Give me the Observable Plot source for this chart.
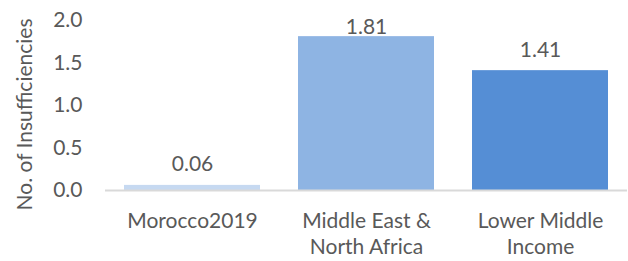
<!DOCTYPE html>
<html>
<head>
<meta charset="utf-8">
<script src="https://cdn.jsdelivr.net/npm/d3@7"></script>
<script src="https://cdn.jsdelivr.net/npm/@observablehq/plot@0.6"></script>
<style>
  html, body { margin: 0; padding: 0; background: #fff; }
  svg { display: block; }
</style>
</head>
<body>
<div id="chart"></div>
<script>
const categories = ["Morocco2019", "Middle East & North Africa", "Lower Middle Income"];
const tickLabels = ["Morocco2019", "Middle East &\nNorth Africa", "Lower Middle\nIncome"];
const values = [0.06, 1.81, 1.41];
const valueLabels = ["0.06", "1.81", "1.41"];
const colors = ["#C6D9F1", "#8EB4E3", "#558ED5"];
const yTicks = [0, 0.5, 1.0, 1.5, 2.0];
const yTitle = "No. of Insufficiencies";

const data = categories.map((c, i) => ({cat: c, value: values[i], label: valueLabels[i], color: colors[i]}));

const FS = 21;
const chart = Plot.plot({
  width: 628,
  height: 261,
  marginLeft: 105,
  marginRight: 1,
  marginTop: 20,
  marginBottom: 71,
  style: {fontFamily: "Lato, sans-serif", fontSize: FS + "px", color: "#595959", background: "#fff"},
  x: {domain: categories, paddingInner: 0.22, paddingOuter: 0.11, label: null},
  y: {domain: [0, 2], label: null},
  marks: [
    Plot.ruleX([0], {frameAnchor: "left", stroke: "#D6E0EE", strokeWidth: 1.5}),
    Plot.barY(data, {x: "cat", y: "value", fill: "color"}),
    Plot.ruleY([0], {stroke: "#D9D9D9", strokeWidth: 2}),
    Plot.text(data.filter(d => d.value < 1.7), {x: "cat", y: "value", text: "label", lineAnchor: "bottom", dy: -14, fill: "#595959", fontSize: FS}),
    Plot.text(data.filter(d => d.value >= 1.7), {x: "cat", y: "value", text: "label", lineAnchor: "bottom", dy: -3, fill: "#595959", fontSize: FS}),
    Plot.axisY({ticks: yTicks, tickFormat: d3.format(".1f"), tickSize: 0, tickPadding: 23, label: null, fontSize: FS}),
    Plot.axisX({tickSize: 0, tickPadding: 19, label: null, tickFormat: d => tickLabels[categories.indexOf(d)], lineHeight: 1.25, fontSize: FS}),
    Plot.text([yTitle], {text: d => d, frameAnchor: "left", textAnchor: "middle", dx: -80, dy: 9, rotate: -90, fill: "#595959", fontSize: FS})
  ]
});
document.getElementById("chart").appendChild(chart);
</script>
</body>
</html>
